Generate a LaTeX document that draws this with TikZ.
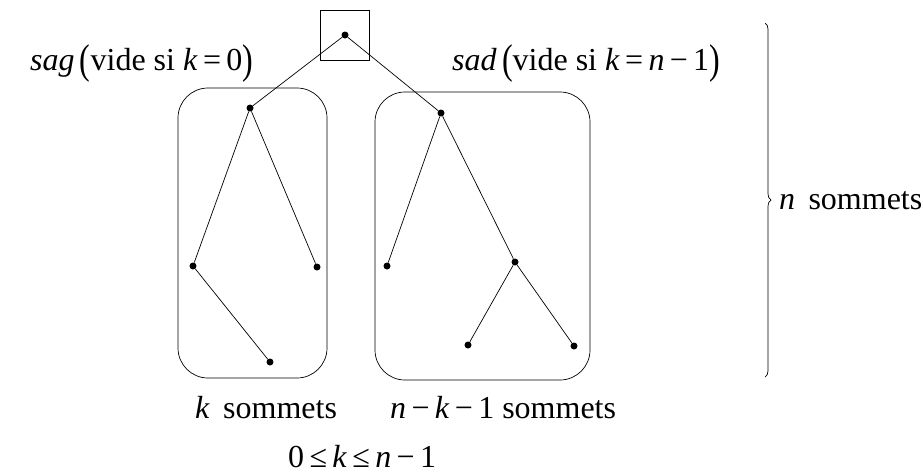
\documentclass[tikz,border=0pt]{standalone}
\usepackage{fontspec}
\setmainfont{Liberation Serif}
\newfontfamily\tms{Liberation Serif}
\usetikzlibrary{decorations.pathreplacing}
\newcommand{\bpar}[1]{\raisebox{-0.12em}{\scalebox{1}[1.3]{#1}}}
\newcommand{\mi}[1]{\textit{#1}}
\begin{document}
\begin{tikzpicture}[x=1pt,y=-1pt,
  vtx/.style={circle,fill=black,inner sep=0pt,minimum size=7pt},
  edge/.style={draw=black,line width=0.7pt},
  grp/.style={draw=black,line width=0.7pt,rounded corners=30pt},
  lbl/.style={font=\tms\fontsize{32}{36}\selectfont,inner sep=0pt,anchor=base west}]
\useasboundingbox (0,0) rectangle (924,475);
% root box
\draw[line width=0.7pt] (320,10) rectangle (369,60);
% groups
\draw[grp] (178,88) rectangle (327,378);
\draw[grp] (375,92) rectangle (590,380);
% vertices
\node[vtx] (r) at (345,35) {};
\node[vtx] (a) at (250,108) {};
\node[vtx] (b) at (193,266) {};
\node[vtx] (c) at (317,267) {};
\node[vtx] (d) at (270,362) {};
\node[vtx] (e) at (441,113) {};
\node[vtx] (f) at (387,266) {};
\node[vtx] (g) at (515,262) {};
\node[vtx] (h) at (468,345) {};
\node[vtx] (i) at (574,346) {};
% edges
\draw[edge] (r) -- (a);
\draw[edge] (a) -- (b);
\draw[edge] (a) -- (c);
\draw[edge] (b) -- (d);
\draw[edge] (r) -- (e);
\draw[edge] (e) -- (f);
\draw[edge] (e) -- (g);
\draw[edge] (g) -- (h);
\draw[edge] (g) -- (i);
% labels
\node[lbl] (sag) at (30,70) {\mi{sag}\,\bpar{(}vide si \mi{k}\,=\,0\bpar{)}};
\node[lbl] (sad) at (452,70) {\mi{sad}\,\bpar{(}vide si \mi{k}\,=\,\mi{n}\,−\,1\bpar{)}};
\node[lbl] (ks) at (195,418) {\mi{k}\, sommets};
\node[lbl] (nks) at (390,418) {\mi{n}\,−\,\mi{k}\,−\,1 sommets};
\node[lbl] (ineq) at (288,467) {0\,≤\,\mi{k}\,≤\,\mi{n}\,−\,1};
% brace
\coordinate (bt) at (765,23);
\coordinate (bb) at (765,377);
\draw[line width=0.7pt,decorate,decoration={brace,amplitude=6pt}] (bt) -- (bb);
\node[lbl] (ns) at (779,209) {\mi{n}\, sommets};
\end{tikzpicture}
\end{document}
